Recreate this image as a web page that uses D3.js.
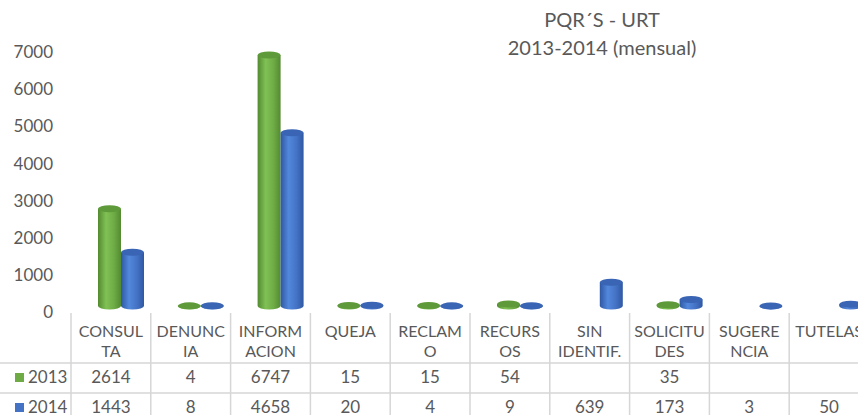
<!DOCTYPE html>
<html>
<head>
<meta charset="utf-8">
<script src="https://cdn.jsdelivr.net/npm/d3@7"></script>
<style>
  body { margin: 0; background: #fff; }
  svg text { font-family: Lato, "Open Sans", sans-serif; fill: #595959; }
</style>
</head>
<body>
<svg id="chart" width="858" height="415"></svg>
<script>
// data
const categories = ['CONSULTA', 'DENUNCIA', 'INFORMACION', 'QUEJA', 'RECLAMO', 'RECURSOS', 'SIN IDENTIF.', 'SOLICITUDES', 'SUGERENCIA', 'TUTELAS']
const headerLines = [['CONSUL', 'TA'], ['DENUNC', 'IA'], ['INFORM', 'ACION'], ['QUEJA'], ['RECLAM', 'O'], ['RECURS', 'OS'], ['SIN', 'IDENTIF.'], ['SOLICITU', 'DES'], ['SUGERE', 'NCIA'], ['TUTELAS']]
const years = ['2013', '2014']
const values2013 = [2614, 4, 6747, 15, 15, 54, null, 35, null, null]
const values2014 = [1443, 8, 4658, 20, 4, 9, 639, 173, 3, 50]
const yTicks = [0, 1000, 2000, 3000, 4000, 5000, 6000, 7000]
const titleLines = ['PQR\u00B4S - URT', '2013-2014 (mensual)']

const colors = {
    '2013': {light: '#80c154', mid: '#6eab45', dark: '#538a31', top: '#5f9a3a'},
    '2014': {light: '#5288dc', mid: '#4472c4', dark: '#2f58a3', top: '#3a64b4'}
}

const svg = d3.select('#chart')
const defs = svg.append('defs')

years.forEach(yr => {
    const c = colors[yr]
    const g = defs.append('linearGradient').attr('id', 'grad' + yr)
        .attr('x1', '0%').attr('x2', '100%').attr('y1', '0%').attr('y2', '0%')
    g.append('stop').attr('offset', '0%').attr('stop-color', c.dark)
    g.append('stop').attr('offset', '35%').attr('stop-color', c.light)
    g.append('stop').attr('offset', '70%').attr('stop-color', c.mid)
    g.append('stop').attr('offset', '100%').attr('stop-color', c.dark)
})

const x = d3.scaleBand().domain(categories).range([71, 71 + 79.8 * categories.length])
const xInner = d3.scaleBand().domain(years).range([27, 73])
const y = d3.scaleLinear().domain([0, 7000]).range([312.5, 52])
const depth = 6.5

// title
svg.append('g').selectAll('text')
    .data(titleLines)
    .enter()
    .append('text')
    .attr('x', 602)
    .attr('y', (d, i) => 27 + i * 28)
    .attr('text-anchor', 'middle')
    .style('font-size', '20px')
    .text(d => d)

// y axis labels
const yAxis = svg.append('g')
    .attr('transform', 'translate(53,0)')
    .call(d3.axisLeft(y).tickValues(yTicks).tickSize(0).tickPadding(0).tickFormat(d3.format('d')))
yAxis.select('.domain').remove()
yAxis.selectAll('text').style('font-size', '17px').style('font-family', 'Lato, sans-serif').attr('fill', '#595959')

// table grid
const tbl = svg.append('g')
const lineColor = '#d6d6d6'
const colEdges = d3.range(categories.length + 1).map(i => x.range()[0] + i * x.bandwidth())
tbl.selectAll('line.v')
    .data(colEdges)
    .enter()
    .append('line')
    .attr('x1', d => d).attr('x2', d => d)
    .attr('y1', 313).attr('y2', 415)
    .attr('stroke', lineColor).attr('stroke-width', 1.5)
tbl.selectAll('line.h')
    .data([363, 393])
    .enter()
    .append('line')
    .attr('x1', 0).attr('x2', 858)
    .attr('y1', d => d).attr('y2', d => d)
    .attr('stroke', lineColor).attr('stroke-width', 1.5)

// header labels
categories.forEach((cat, i) => {
    tbl.append('g').selectAll('text')
        .data(headerLines[i])
        .enter()
        .append('text')
        .attr('x', x(cat) + x.bandwidth() / 2)
        .attr('y', (d, j) => 337 + j * 20)
        .attr('text-anchor', 'middle')
        .style('font-size', '16px')
        .text(d => d)
})

// table rows
const rows = [{year: '2013', vals: values2013, base: 383}, {year: '2014', vals: values2014, base: 413}]
rows.forEach(r => {
    tbl.append('rect')
        .attr('x', 15).attr('y', r.base - 10)
        .attr('width', 9).attr('height', 9)
        .attr('fill', colors[r.year].mid)
    tbl.append('text')
        .attr('x', 28).attr('y', r.base)
        .style('font-size', '17px')
        .text(r.year)
    tbl.append('g').selectAll('text')
        .data(r.vals)
        .enter()
        .append('text')
        .attr('x', (d, i) => x(categories[i]) + x.bandwidth() / 2)
        .attr('y', r.base)
        .attr('text-anchor', 'middle')
        .style('font-size', '17px')
        .text(d => d == null ? '' : d)
})

// cylinders
const rx = 11.5, ry = 3.5
const bars = []
categories.forEach((cat, i) => {
    [[years[0], values2013[i]], [years[1], values2014[i]]].forEach(([yr, v]) => {
        if (v != null) bars.push({cat, yr, v})
    })
})

const barG = svg.append('g')
bars.forEach(b => {
    const cx = x(b.cat) + xInner(b.yr) + xInner.bandwidth() / 2
    const base = y(0) - depth
    const top = y(b.v) - depth
    const l = cx - rx, r = cx + rx
    barG.append('path')
        .attr('d', `M${l},${top} L${l},${base} A${rx},${ry} 0 0 0 ${r},${base} L${r},${top} Z`)
        .attr('fill', `url(#grad${b.yr})`)
    barG.append('ellipse')
        .attr('cx', cx).attr('cy', top)
        .attr('rx', rx).attr('ry', ry)
        .attr('fill', colors[b.yr].top)
})
</script>
</body>
</html>
